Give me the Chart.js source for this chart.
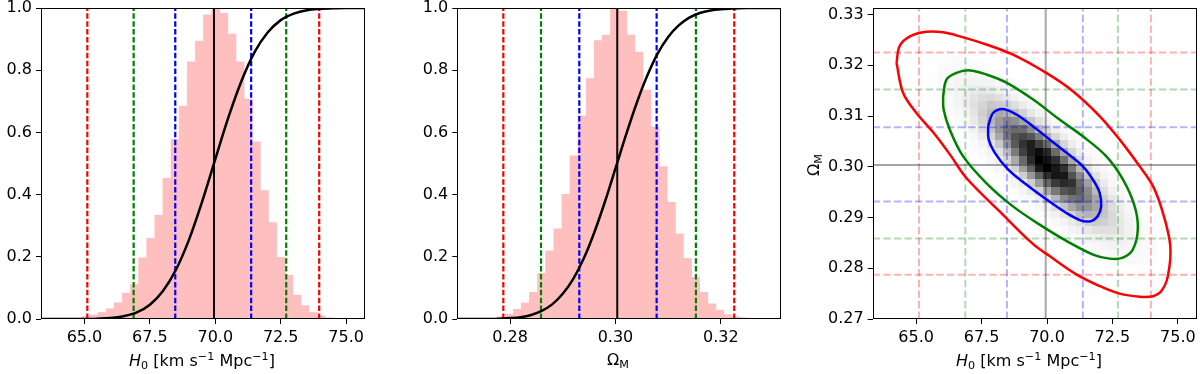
<!DOCTYPE html>
<html lang="en">
<head>
    <meta charset="UTF-8">
    <title>H0 / Omega_M posterior</title>
    <script src="https://cdn.jsdelivr.net/npm/chart.js@4.4.1/dist/chart.umd.min.js"></script>
    <style>
        body { margin: 0; background: #fff; width: 1200px; height: 374px; position: relative; overflow: hidden;
               font-family: 'DejaVu Sans', sans-serif; }
        canvas { position: absolute; top: 0; }
        .lbl { position: absolute; font-size: 16px; line-height: 16px; white-space: nowrap; color: #000;
               transform: translateX(-50%); }
        .lbl sub, .lbl sup { font-size: 0.7em; line-height: 0; position: relative; vertical-align: baseline; }
        .lbl sub { top: 0.25em; }
        .lbl sup { top: -0.55em; }
        .rot { transform: translate(-50%, -50%) rotate(-90deg); }
    </style>
</head>
<body>
    <canvas id="h0Chart" width="400" height="374" style="left:0"></canvas>
    <canvas id="omChart" width="400" height="374" style="left:400px"></canvas>
    <canvas id="jointChart" width="400" height="374" style="left:800px"></canvas>

    <div class="lbl" style="left:202px; top:353px"><i>H</i><sub>0</sub> [km s<sup>−1</sup> Mpc<sup>−1</sup>]</div>
    <div class="lbl" style="left:618px; top:352px">Ω<sub>M</sub></div>
    <div class="lbl" style="left:1029px; top:353px"><i>H</i><sub>0</sub> [km s<sup>−1</sup> Mpc<sup>−1</sup>]</div>
    <div class="lbl rot" style="left:814px; top:165px">Ω<sub>M</sub></div>

    <script>
        // ---- histogram bins (normalised to peak = 1)
        const h0BinLo = 64.90, h0BinW = 0.31;
        const h0Hist = [0.007, 0.013, 0.021, 0.033, 0.052, 0.083, 0.111, 0.197, 0.259, 0.334, 0.452,
                        0.578, 0.685, 0.827, 0.894, 0.978, 1.000, 0.984, 0.916, 0.827, 0.707, 0.570,
                        0.413, 0.310, 0.198, 0.141, 0.077, 0.043, 0.021, 0.010, 0.004];
        const omBinLo = 0.27754, omBinW = 0.001537;
        const omHist = [0.007, 0.016, 0.031, 0.052, 0.086, 0.147, 0.219, 0.290, 0.401, 0.525, 0.653,
                        0.773, 0.895, 0.913, 1.000, 0.990, 0.913, 0.858, 0.737, 0.617, 0.490, 0.375,
                        0.274, 0.195, 0.134, 0.086, 0.049, 0.029, 0.014, 0.007, 0.004];

        // ---- cumulative curves
        const h0CdfX = [63.4, 64.0, 64.5, 65.0, 65.5, 66.0, 66.5, 67.0, 67.5, 68.0, 68.5, 69.0, 69.5,
                        70.0, 70.5, 71.0, 71.5, 72.0, 72.5, 73.0, 73.5, 74.0, 74.5, 75.0, 75.7];
        const h0CdfY = [0.000, 0.000, 0.000, 0.000, 0.001, 0.003, 0.009, 0.021, 0.046, 0.090, 0.159, 0.256, 0.378,
                        0.514, 0.648, 0.765, 0.858, 0.921, 0.961, 0.982, 0.993, 0.997, 0.999, 1.000, 1.000];
        const omCdfX = [0.270, 0.274, 0.278, 0.280, 0.282, 0.284, 0.286, 0.288, 0.290, 0.292, 0.294, 0.296, 0.298,
                        0.300, 0.302, 0.304, 0.306, 0.308, 0.310, 0.312, 0.314, 0.316, 0.318, 0.320, 0.322, 0.325, 0.3314];
        const omCdfY = [0.000, 0.000, 0.001, 0.003, 0.006, 0.013, 0.026, 0.047, 0.081, 0.129, 0.195, 0.279, 0.377,
                        0.484, 0.592, 0.693, 0.781, 0.853, 0.907, 0.944, 0.969, 0.984, 0.992, 0.996, 0.998, 1.000, 1.000];

        // ---- median and 1/2/3 sigma limits
        const h0Median = 69.95;
        const h0Sigma1 = [68.47, 71.37], h0Sigma2 = [66.88, 72.71], h0Sigma3 = [65.11, 73.97];
        const omMedian = 0.30034;
        const omSigma1 = [0.29314, 0.30781], omSigma2 = [0.28588, 0.31526], omSigma3 = [0.27873, 0.32253];

        // ---- 2D histogram rows: [row j, first column i, values (% of peak)]
        const densityRows = [
            [28, 2, [2, 2, 3, 3, 2, 2]],
            [27, 3, [3, 4, 4, 4, 4, 3]],
            [26, 2, [2, 4, 5, 6, 7, 7, 6, 4, 3]],
            [25, 2, [2, 4, 6, 8, 10, 11, 10, 9, 6, 4, 2]],
            [24, 2, [2, 3, 6, 9, 13, 16, 17, 15, 12, 9, 5, 3, 1]],
            [23, 2, [1, 2, 5, 9, 14, 19, 23, 25, 21, 17, 12, 7, 4, 2]],
            [22, 3, [2, 4, 8, 14, 21, 27, 33, 31, 29, 22, 15, 9, 5, 2]],
            [21, 3, [1, 3, 6, 11, 19, 29, 38, 44, 41, 37, 28, 18, 11, 5, 2]],
            [20, 4, [2, 4, 8, 16, 27, 40, 49, 56, 52, 45, 33, 22, 12, 6, 3]],
            [19, 5, [2, 5, 11, 21, 35, 50, 63, 66, 65, 53, 38, 24, 13, 6, 3]],
            [18, 5, [1, 3, 7, 15, 27, 44, 61, 75, 78, 74, 59, 42, 26, 14, 7, 3]],
            [17, 6, [1, 4, 9, 19, 33, 52, 72, 84, 90, 80, 64, 44, 27, 14, 6, 3]],
            [16, 7, [2, 5, 11, 22, 39, 60, 80, 90, 96, 86, 66, 44, 26, 14, 6, 2]],
            [15, 8, [2, 6, 13, 26, 44, 66, 86, 100, 94, 85, 64, 43, 25, 12, 5, 2]],
            [14, 9, [3, 7, 15, 28, 47, 69, 91, 99, 92, 84, 61, 39, 22, 11, 5, 2]],
            [13, 10, [3, 7, 16, 30, 49, 70, 85, 93, 92, 75, 54, 34, 19, 9, 4]],
            [12, 11, [3, 8, 16, 30, 48, 67, 82, 86, 84, 66, 47, 29, 16, 7, 3]],
            [11, 12, [3, 8, 16, 29, 45, 61, 74, 78, 70, 55, 38, 23, 12, 6, 2]],
            [10, 13, [3, 7, 15, 26, 40, 54, 63, 65, 57, 45, 30, 18, 9, 4]],
            [9, 14, [3, 7, 13, 23, 35, 45, 52, 51, 45, 34, 23, 13, 7, 3]],
            [8, 15, [3, 6, 12, 19, 29, 37, 41, 40, 34, 25, 16, 9, 5, 2]],
            [7, 16, [2, 5, 10, 16, 22, 28, 31, 29, 25, 18, 11, 6, 3]],
            [6, 17, [2, 4, 8, 12, 17, 21, 22, 21, 17, 12, 7, 4, 2]],
            [5, 19, [3, 6, 9, 12, 15, 15, 14, 11, 8, 5, 3]],
            [4, 20, [2, 4, 6, 8, 10, 10, 9, 7, 5, 3]],
            [3, 22, [3, 4, 6, 6, 6, 6, 4, 3]],
            [2, 24, [3, 3, 4, 4, 3, 2]]
        ];

        // ---- contours (H0, Omega_M)
        const blueContourH0 = [67.75, 67.94, 68.32, 68.83, 69.46, 70.10, 70.74, 71.37, 71.75, 72.01, 72.07,
                               71.94, 71.69, 71.31, 70.74, 69.97, 69.21, 68.51, 68.00, 67.77, 67.75];
        const blueContourOm = [0.3080, 0.3106, 0.3114, 0.3103, 0.3080, 0.3054, 0.3028, 0.3001, 0.2975, 0.2949, 0.2922,
                               0.2903, 0.2893, 0.2894, 0.2909, 0.2936, 0.2965, 0.2995, 0.3028, 0.3054, 0.3080];
        const greenContourH0 = [66.03, 66.16, 66.54, 67.05, 67.68, 68.45, 69.46, 70.48, 71.37, 72.26, 72.90, 73.35,
                                73.47, 73.28, 72.90, 72.39, 71.76, 70.74, 69.72, 68.70, 67.68, 66.79, 66.28, 66.05, 66.03];
        const greenContourOm = [0.3139, 0.3172, 0.3185, 0.3190, 0.3182, 0.3166, 0.3133, 0.3093, 0.3060, 0.3021, 0.2975, 0.2922,
                                0.2877, 0.2837, 0.2821, 0.2819, 0.2827, 0.2854, 0.2886, 0.2922, 0.2968, 0.3021, 0.3074, 0.3113, 0.3139];
        const redContourH0 = [64.25, 64.37, 64.76, 65.39, 66.03, 66.67, 67.68, 68.70, 69.97, 70.99, 72.01, 72.77,
                              73.54, 74.05, 74.43, 74.71, 74.62, 74.37, 74.05, 73.54, 72.77, 72.01, 71.12, 70.10,
                              69.46, 68.19, 66.92, 66.28, 65.65, 65.01, 64.50, 64.25];
        const redContourOm = [0.3205, 0.3238, 0.3257, 0.3266, 0.3265, 0.3257, 0.3241, 0.3221, 0.3185, 0.3149, 0.3100, 0.3054,
                              0.3001, 0.2962, 0.2909, 0.2844, 0.2785, 0.2755, 0.2745, 0.2744, 0.2750, 0.2765, 0.2788, 0.2824,
                              0.2848, 0.2912, 0.2978, 0.3025, 0.3068, 0.3106, 0.3146, 0.3205];

        // ---- axes
        const h0Range = [63.34, 75.72];
        const omRange = [0.2700, 0.3314];
        const probRange = [0, 1];
        const om2dRange = [0.2700, 0.3313];
        const h0Ticks = [65, 67.5, 70, 72.5, 75];
        const h0TickLabels = ['65.0', '67.5', '70.0', '72.5', '75.0'];
        const omTicks = [0.28, 0.30, 0.32];
        const omTickLabels = ['0.28', '0.30', '0.32'];
        const probTicks = [0, 0.2, 0.4, 0.6, 0.8, 1.0];
        const probTickLabels = ['0.0', '0.2', '0.4', '0.6', '0.8', '1.0'];
        const om2dTicks = [0.27, 0.28, 0.29, 0.30, 0.31, 0.32, 0.33];
        const om2dTickLabels = ['0.27', '0.28', '0.29', '0.30', '0.31', '0.32', '0.33'];

        const RED = '#ff0000', GREEN = '#008000', BLUE = '#0000ff';
        const tickFont = { family: 'DejaVu Sans', size: 16 };

        function axis(range, ticks, labels, isY, size) {
            return {
                type: 'linear', min: range[0], max: range[1], offset: false,
                afterBuildTicks: s => { s.ticks = ticks.map(v => ({ value: v })); },
                afterFit: s => {
                    if (isY) s.width = size; else s.height = size;
                    s.paddingTop = 0; s.paddingBottom = 0; s.paddingLeft = 0; s.paddingRight = 0;
                },
                grid: { display: true, offset: false, drawOnChartArea: false, drawTicks: true, tickLength: 5,
                        tickWidth: 1, tickColor: '#000' },
                border: { display: false },
                ticks: { font: tickFont, color: '#000', padding: 4, maxRotation: 0, autoSkip: false,
                         callback: (v, i) => labels[i] }
            };
        }

        // box around plot area (all four spines)
        const framePlugin = {
            id: 'frame',
            afterDraw(chart) {
                const a = chart.chartArea, ctx = chart.ctx;
                ctx.save();
                ctx.strokeStyle = '#000';
                ctx.lineWidth = 1;
                ctx.strokeRect(Math.round(a.left) + 0.5, Math.round(a.top) + 0.5,
                               Math.round(a.width) - 1, Math.round(a.height) - 1);
                ctx.restore();
            }
        };

        function vLine(v, yr, color, dash, width, order) {
            return { type: 'line', data: [{ x: v, y: yr[0] }, { x: v, y: yr[1] }], borderColor: color,
                     borderDash: dash, borderWidth: width, pointRadius: 0, fill: false, order: order };
        }
        function hLine(v, xr, color, dash, width, order) {
            return { type: 'line', data: [{ x: xr[0], y: v }, { x: xr[1], y: v }], borderColor: color,
                     borderDash: dash, borderWidth: width, pointRadius: 0, fill: false, order: order };
        }

        function histChart(id, binLo, binW, hist, cdfX, cdfY, med, s1, s2, s3, xRange, xTicks, xLabels, leftW, padRight) {
            const dash = [5.5, 2.4];
            const datasets = [
                { type: 'bar', data: hist.map((h, i) => ({ x: binLo + (i + 0.5) * binW, y: h })),
                  backgroundColor: '#ffbfbf', borderWidth: 0, barPercentage: 1, categoryPercentage: 1, order: 10 },
                { type: 'line', data: cdfX.map((x, i) => ({ x: x, y: cdfY[i] })), borderColor: '#000',
                  borderWidth: 2.5, pointRadius: 0, cubicInterpolationMode: 'monotone', fill: false, order: 1 },
                vLine(med, probRange, '#000', [], 2, 2)
            ];
            [[s3, RED], [s2, GREEN], [s1, BLUE]].forEach(([pair, c]) => {
                pair.forEach(v => datasets.push(vLine(v, probRange, c, dash, 2.2, 3)));
            });
            return new Chart(document.getElementById(id), {
                type: 'bar',
                data: { datasets: datasets },
                options: {
                    responsive: false, animation: false, events: [],
                    layout: { padding: { top: 8, right: padRight, bottom: 0, left: 0 } },
                    plugins: { legend: { display: false }, tooltip: { enabled: false } },
                    scales: {
                        x: axis(xRange, xTicks, xLabels, false, 55),
                        y: axis(probRange, probTicks, probTickLabels, true, leftW)
                    }
                },
                plugins: [framePlugin]
            });
        }

        histChart('h0Chart', h0BinLo, h0BinW, h0Hist, h0CdfX, h0CdfY, h0Median, h0Sigma1, h0Sigma2, h0Sigma3,
                  h0Range, h0Ticks, h0TickLabels, 41, 35);
        histChart('omChart', omBinLo, omBinW, omHist, omCdfX, omCdfY, omMedian, omSigma1, omSigma2, omSigma3,
                  omRange, omTicks, omTickLabels, 57.3, 19);

        // matplotlib "Greys"
        const greysStops = [[255, 255, 255], [240, 240, 240], [217, 217, 217], [189, 189, 189], [150, 150, 150],
                            [115, 115, 115], [82, 82, 82], [37, 37, 37], [0, 0, 0]];
        function greys(t) {
            t = Math.max(0, Math.min(1, t));
            const p = t * 8, k = Math.min(7, Math.floor(p)), f = p - k;
            const c = greysStops[k].map((a, n) => Math.round(a + (greysStops[k + 1][n] - a) * f));
            return `rgb(${c[0]},${c[1]},${c[2]})`;
        }
        const densityMax = Math.max(...densityRows.map(r => Math.max(...r[2])));

        const heatmapPlugin = {
            id: 'heatmap',
            beforeDatasetsDraw(chart) {
                const { ctx, chartArea: a, scales: { x, y } } = chart;
                ctx.save();
                ctx.beginPath();
                ctx.rect(a.left, a.top, a.width, a.height);
                ctx.clip();
                densityRows.forEach(([j, i0, vals]) => {
                    const yt = Math.round(y.getPixelForValue(omBinLo + (j + 1) * omBinW));
                    const yb = Math.round(y.getPixelForValue(omBinLo + j * omBinW));
                    vals.forEach((v, k) => {
                        const i = i0 + k;
                        const xl = Math.round(x.getPixelForValue(h0BinLo + i * h0BinW));
                        const xr = Math.round(x.getPixelForValue(h0BinLo + (i + 1) * h0BinW));
                        ctx.fillStyle = greys(v / densityMax);
                        ctx.fillRect(xl, yt, xr - xl, yb - yt);
                    });
                });
                ctx.restore();
            }
        };

        const faint = { r: 'rgba(255,0,0,0.3)', g: 'rgba(0,128,0,0.3)', b: 'rgba(0,0,255,0.3)' };
        const dash2 = [7.4, 3.2];
        const jointSets = [];
        [[h0Sigma3, faint.r], [h0Sigma2, faint.g], [h0Sigma1, faint.b]].forEach(([pair, c]) => {
            pair.forEach(v => jointSets.push(vLine(v, om2dRange, c, dash2, 2, 5)));
        });
        [[omSigma3, faint.r], [omSigma2, faint.g], [omSigma1, faint.b]].forEach(([pair, c]) => {
            pair.forEach(v => jointSets.push(hLine(v, h0Range, c, dash2, 2, 5)));
        });
        jointSets.push(vLine(h0Median, om2dRange, 'rgba(0,0,0,0.35)', [], 2, 4));
        jointSets.push(hLine(omMedian, h0Range, 'rgba(0,0,0,0.35)', [], 2, 4));
        [[redContourH0, redContourOm, RED], [greenContourH0, greenContourOm, GREEN],
         [blueContourH0, blueContourOm, BLUE]].forEach(([xs, ys, c]) => {
            jointSets.push({ type: 'line', data: xs.map((x, i) => ({ x: x, y: ys[i] })), borderColor: c,
                             borderWidth: 2.5, pointRadius: 0, tension: 0.35, fill: false, order: 1 });
        });

        new Chart(document.getElementById('jointChart'), {
            type: 'scatter',
            data: { datasets: jointSets },
            options: {
                responsive: false, animation: false, events: [],
                layout: { padding: { top: 8, right: 3.3, bottom: 0, left: 0 } },
                plugins: { legend: { display: false }, tooltip: { enabled: false } },
                scales: {
                    x: axis(h0Range, h0Ticks, h0TickLabels, false, 55),
                    y: axis(om2dRange, om2dTicks, om2dTickLabels, true, 72.7)
                }
            },
            plugins: [heatmapPlugin, framePlugin]
        });
    </script>
</body>
</html>
